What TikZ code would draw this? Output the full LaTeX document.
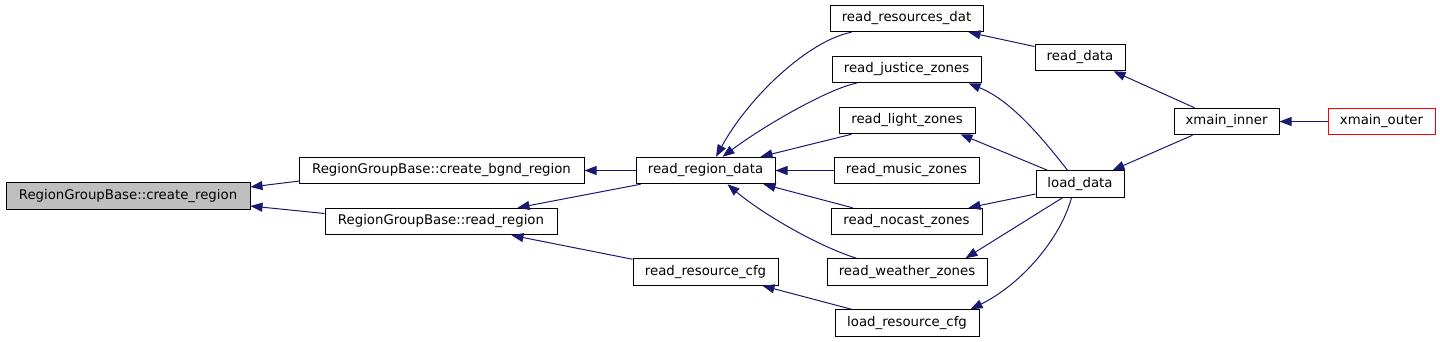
\documentclass[tikz,border=0pt]{standalone}
\usepackage{fontspec}
\setmainfont{DejaVu Sans}
\usetikzlibrary{arrows.meta,calc}
\definecolor{edgeblue}{HTML}{191970}
\definecolor{focusgray}{HTML}{BFBFBF}
\begin{document}
\begin{tikzpicture}[x=1pt,y=-1pt,
  fn/.style={draw=black,line width=1pt,inner sep=0pt,minimum height=26.5pt,
    font=\fontsize{13.3}{15}\selectfont,anchor=center,fill=white},
  focus/.style={fn,fill=focusgray},
  ext/.style={fn,draw=red},
  edge/.style={draw=edgeblue,line width=1pt,-{Triangle[length=12pt,width=9pt]}}]
\useasboundingbox (0,0) rectangle (1440,341);
% nodes
\node[focus,minimum width=244pt] (cr) at (128,196) {RegionGroupBase::create\_region};
\node[fn,minimum width=285pt] (cbg) at (441.5,170.5) {RegionGroupBase::create\_bgnd\_region};
\node[fn,minimum width=232pt] (rr) at (441,221.5) {RegionGroupBase::read\_region};
\node[fn,minimum width=139pt] (rrd) at (705.5,170.5) {read\_region\_data};
\node[fn,minimum width=145pt] (rrc) at (705.5,272) {read\_resource\_cfg};
\node[fn,minimum width=153pt] (rrdat) at (906.5,18.5) {read\_resources\_dat};
\node[fn,minimum width=149pt] (rjz) at (906.5,69.5) {read\_justice\_zones};
\node[fn,minimum width=136pt] (rlz) at (907,120.5) {read\_light\_zones};
\node[fn,minimum width=145pt] (rmz) at (906.5,170.5) {read\_music\_zones};
\node[fn,minimum width=151pt] (rnz) at (906.5,221.5) {read\_nocast\_zones};
\node[fn,minimum width=160pt] (rwz) at (907,272) {read\_weather\_zones};
\node[fn,minimum width=144pt] (lrc) at (907,323) {load\_resource\_cfg};
\node[fn,minimum width=90pt] (rd) at (1080,57.5) {read\_data};
\node[fn,minimum width=88pt] (ld) at (1080,184) {load\_data};
\node[fn,minimum width=105pt] (xi) at (1226.5,121.5) {xmain\_inner};
\node[ext,minimum width=107pt] (xo) at (1381.5,121.5) {xmain\_outer};
% edges
\draw[edge] ($(cbg.west)+(1,10.5)$) -- ($(cr.east)+(0,-9)$);
\draw[edge] ($(rr.west)+(0,-8)$) -- ($(cr.east)+(0,10)$);
\draw[edge] (rrd.west) -- (cbg.east);
\draw[edge] ($(rrd.south west)+(5,0)$) -- ($(rr.north east)+(-40,0)$);
\draw[edge] ($(rrc.north west)+(0,1)$) -- ($(rr.south east)+(-46,0)$);
\draw[edge] ($(rrdat.south west)+(22,0)$) .. controls (810,40) and (750,95) .. ($(rrd.north)+(10.5,0)$);
\draw[edge] ($(rjz.south west)+(25,0)$) .. controls (830,88) and (765,125) .. ($(rrd.north)+(17,0)$);
\draw[edge] ($(rlz.south west)+(13,0)$) -- ($(rrd.north east)+(-15,0)$);
\draw[edge] (rmz.west) -- (rrd.east);
\draw[edge] ($(rnz.north west)+(22,0)$) -- ($(rrd.south east)+(-12,0)$);
\draw[edge] ($(rwz.north west)+(30,0)$) .. controls (815,245) and (760,212) .. ($(rrd.south)+(22,0)$);
\draw[edge] ($(lrc.north west)+(17,0)$) -- ($(rrc.south east)+(-16,0)$);
\draw[edge] ($(rd.west)+(0,-11)$) -- ($(rrdat.south east)+(-15,0)$);
\draw[edge] ($(ld.north west)+(32,0)$) .. controls (1040,135) and (1010,100) .. ($(rjz.south east)+(-13,0)$);
\draw[edge] ($(ld.north west)+(12,0)$) -- ($(rlz.south east)+(-15,0)$);
\draw[edge] ($(ld.west)+(0,10)$) -- ($(rnz.north east)+(-14,0)$);
\draw[edge] ($(ld.south west)+(27,0)$) -- ($(rwz.north east)+(-22,0)$);
\draw[edge] ($(ld.south west)+(36,0)$) .. controls (1060,240) and (1020,285) .. ($(lrc.north east)+(-9,0)$);
\draw[edge] ($(xi.north west)+(21,0)$) -- ($(rd.south east)+(-12,0)$);
\draw[edge] ($(xi.south west)+(19,0)$) -- ($(ld.north east)+(-12,0)$);
\draw[edge] (xo.west) -- (xi.east);
\end{tikzpicture}
\end{document}
